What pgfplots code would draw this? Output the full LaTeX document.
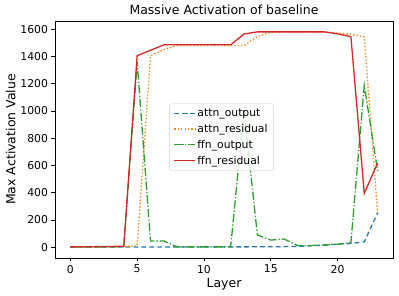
\documentclass[border=0pt]{standalone}
\usepackage{pgfplots}
\pgfplotsset{compat=1.18}
\usepackage{fontspec}
\setmainfont{DejaVu Sans}
\definecolor{tabblue}{HTML}{1F77B4}
\definecolor{taborange}{HTML}{FF7F0E}
\definecolor{tabgreen}{HTML}{2CA02C}
\definecolor{tabred}{HTML}{D62728}
\begin{document}
\begin{tikzpicture}
\path[use as bounding box] (-55pt,-38pt) rectangle (344pt,258pt);
\begin{axis}[
  at={(0,0)}, anchor=south west,
  scale only axis,
  width=338pt, height=237pt,
  xmin=-1.15, xmax=24.15,
  ymin=-79.5, ymax=1660,
  xtick={0,5,10,15,20},
  ytick={0,200,400,600,800,1000,1200,1400,1600},
  tick align=outside,
  xtick pos=bottom, ytick pos=left,
  major tick length=3.5pt,
  tick style={black, line width=0.7pt},
  axis line style={line width=0.7pt},
  /pgf/number format/assume math mode=true,
  /pgf/number format/1000 sep={},
  tick label style={font=\fontsize{10.8}{12}\selectfont},
  title={Massive Activation of baseline},
  title style={font=\fontsize{12.5}{14}\selectfont, yshift=-3pt},
  xlabel={Layer},
  ylabel={Max Activation Value},
  label style={font=\fontsize{12.5}{14}\selectfont},
  xlabel style={yshift=2pt},
  ylabel style={yshift=-2pt},
  legend style={at={(0.493,0.51)}, anchor=center, draw=black!20, rounded corners=2pt,
    fill=white, fill opacity=0.8, text opacity=1,
    font=\fontsize{10.8}{12}\selectfont, row sep=2.2pt, inner xsep=4pt, inner ysep=3pt},
  legend cell align=left,
  legend image post style={xscale=1.2},
]
\addplot[tabblue, line width=1.3pt, dash pattern=on 4.8pt off 3.1pt] coordinates {
(0,1)(1,1)(2,1)(3,1)(4,1)(5,1)(6,1)(7,1)(8,1)(9,1)(10,1)(11,1)(12,2)(13,2)(14,3)(15,3)(16,4)(17,6)(18,10)(19,15)(20,22)(21,27)(22,39)(23,252)};
\addlegendentry{attn\_output}
\addplot[taborange, line width=1.3pt, dash pattern=on 1.3pt off 2.1pt] coordinates {
(0,2)(1,2)(2,3)(3,3)(4,5)(5,8)(6,1405)(7,1450)(8,1480)(9,1480)(10,1480)(11,1480)(12,1480)(13,1480)(14,1545)(15,1578)(16,1580)(17,1580)(18,1580)(19,1580)(20,1572)(21,1563)(22,1543)(23,252)};
\addlegendentry{attn\_residual}
\addplot[tabgreen, line width=1.3pt, dash pattern=on 8.3pt off 2.1pt on 1.3pt off 2.1pt] coordinates {
(0,1)(1,1)(2,2)(3,2)(4,3)(5,1360)(6,45)(7,45)(8,2)(9,2)(10,2)(11,2)(12,3)(13,1000)(14,90)(15,52)(16,60)(17,12)(18,12)(19,16)(20,22)(21,33)(22,1188)(23,560)};
\addlegendentry{ffn\_output}
\addplot[tabred, line width=1.3pt] coordinates {
(0,2)(1,3)(2,4)(3,5)(4,7)(5,1405)(6,1445)(7,1485)(8,1485)(9,1485)(10,1485)(11,1485)(12,1485)(13,1565)(14,1580)(15,1580)(16,1580)(17,1580)(18,1580)(19,1580)(20,1566)(21,1545)(22,395)(23,618)};
\addlegendentry{ffn\_residual}
\end{axis}
\end{tikzpicture}
\end{document}
